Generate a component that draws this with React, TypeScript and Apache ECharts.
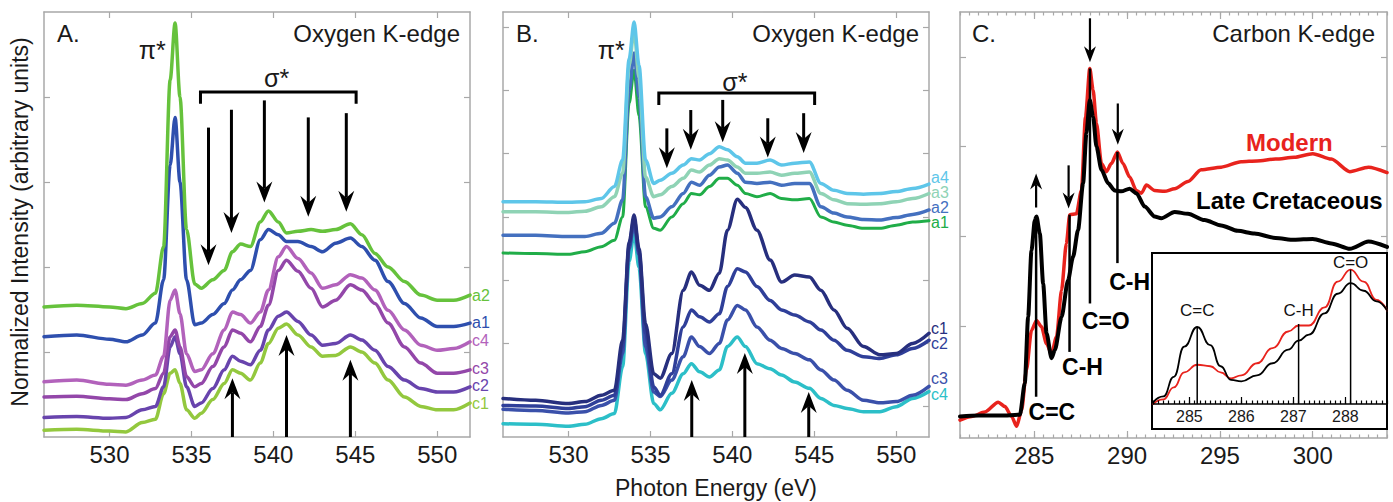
import React, { useEffect, useRef } from 'react';
import * as echarts from 'echarts';

// ---------------- data ----------------
// Oxygen K-edge energy grid (eV), shared by panels A and B
const energyO = [526, 528, 530, 531, 532, 532.8, 533.3, 533.7, 534, 534.3, 534.7, 535.2, 535.6, 536.3, 537, 537.5, 538, 538.6, 539.2, 539.7, 540.3, 540.8, 541.5, 542.3, 543, 543.8, 544.7, 545.4, 546.2, 547, 548, 549, 550, 551, 552];

// Panel A
const panelA_a2 = [1.53, 1.55, 1.53, 1.51, 1.57, 1.69, 2.24, 4.2, 4.87, 4.0, 2.44, 1.8, 1.75, 1.85, 1.96, 2.18, 2.27, 2.24, 2.53, 2.66, 2.53, 2.40, 2.42, 2.44, 2.42, 2.44, 2.51, 2.38, 2.16, 2.0, 1.83, 1.67, 1.61, 1.61, 1.67];
const panelA_a1 = [1.18, 1.20, 1.15, 1.12, 1.20, 1.34, 1.85, 3.2, 3.76, 3.0, 1.85, 1.32, 1.34, 1.44, 1.57, 1.73, 1.85, 1.96, 2.32, 2.44, 2.38, 2.30, 2.30, 2.24, 2.18, 2.28, 2.34, 2.24, 2.08, 1.83, 1.57, 1.40, 1.30, 1.30, 1.34];
const panelA_c4 = [0.65, 0.67, 0.62, 0.61, 0.67, 0.73, 0.95, 1.61, 1.73, 1.45, 0.98, 0.77, 0.79, 0.98, 1.26, 1.47, 1.44, 1.34, 1.47, 1.73, 2.12, 2.24, 2.10, 1.93, 1.75, 1.79, 1.91, 1.87, 1.73, 1.49, 1.26, 1.08, 1.02, 1.04, 1.12];
const panelA_c3 = [0.47, 0.48, 0.45, 0.44, 0.51, 0.57, 0.75, 1.18, 1.26, 1.06, 0.71, 0.59, 0.63, 0.83, 1.06, 1.26, 1.22, 1.12, 1.30, 1.55, 1.96, 2.08, 1.95, 1.75, 1.53, 1.61, 1.79, 1.73, 1.57, 1.34, 1.06, 0.87, 0.75, 0.75, 0.79];
const panelA_c2 = [0.23, 0.24, 0.22, 0.23, 0.32, 0.36, 0.59, 1.06, 1.18, 0.98, 0.59, 0.36, 0.40, 0.57, 0.79, 0.95, 0.89, 0.85, 1.02, 1.26, 1.42, 1.47, 1.36, 1.20, 1.08, 1.10, 1.20, 1.14, 1.02, 0.83, 0.67, 0.57, 0.53, 0.53, 0.59];
const panelA_c1 = [0.08, 0.09, 0.07, 0.06, 0.17, 0.21, 0.51, 0.75, 0.79, 0.63, 0.32, 0.22, 0.28, 0.44, 0.63, 0.79, 0.75, 0.67, 0.87, 1.10, 1.28, 1.33, 1.20, 1.06, 0.95, 0.96, 1.06, 1.00, 0.87, 0.67, 0.47, 0.36, 0.32, 0.32, 0.40];
const panelANames = ['a2', 'a1', 'c4', 'c3', 'c2', 'c1'];
const panelAColors = ['#66c23c', '#2e4fae', '#b262bb', '#9347a9', '#6844ad', '#93c83e'];
const panelALabelY = [1.67, 1.35, 1.14, 0.81, 0.61, 0.39];

// Panel B
const panelB_a4 = [3.24, 3.24, 3.23, 3.24, 3.29, 3.48, 3.90, 5.5, 6.08, 5.4, 3.90, 3.53, 3.58, 3.69, 3.82, 3.92, 3.90, 4.00, 4.11, 4.06, 3.95, 3.85, 3.85, 3.90, 3.82, 3.85, 3.87, 3.53, 3.42, 3.37, 3.36, 3.37, 3.40, 3.45, 3.52];
const panelB_a3 = [3.08, 3.08, 3.07, 3.09, 3.16, 3.32, 3.69, 5.4, 5.95, 5.2, 3.63, 3.32, 3.35, 3.48, 3.61, 3.74, 3.71, 3.82, 3.92, 3.90, 3.79, 3.69, 3.69, 3.71, 3.66, 3.69, 3.71, 3.37, 3.27, 3.21, 3.20, 3.21, 3.24, 3.29, 3.37];
const panelB_a2 = [2.71, 2.71, 2.69, 2.69, 2.74, 2.90, 3.27, 5.0, 5.59, 4.9, 3.32, 2.98, 3.00, 3.16, 3.37, 3.55, 3.50, 3.66, 3.79, 3.82, 3.69, 3.55, 3.53, 3.55, 3.50, 3.53, 3.53, 3.16, 3.06, 3.00, 2.96, 2.95, 2.99, 3.04, 3.11];
const panelB_a1 = [2.43, 2.42, 2.41, 2.45, 2.53, 2.63, 3.00, 4.8, 5.32, 4.6, 3.16, 2.82, 2.79, 3.00, 3.21, 3.37, 3.35, 3.48, 3.61, 3.61, 3.50, 3.37, 3.32, 3.37, 3.29, 3.27, 3.29, 3.00, 2.92, 2.87, 2.82, 2.82, 2.87, 2.92, 2.94];
const panelB_c1 = [0.13, 0.10, 0.05, 0.08, 0.18, 0.26, 1.05, 2.6, 3.03, 2.5, 1.31, 0.52, 0.45, 0.84, 1.84, 2.13, 1.92, 1.84, 2.11, 2.79, 3.28, 3.15, 2.79, 2.32, 1.97, 2.08, 2.05, 1.84, 1.53, 1.24, 0.95, 0.82, 0.84, 1.00, 1.16];
const panelB_c2 = [0.02, 0.01, -0.03, 0.00, 0.10, 0.18, 0.95, 2.55, 2.98, 2.45, 1.16, 0.31, 0.18, 0.52, 1.26, 1.53, 1.42, 1.34, 1.47, 1.90, 2.18, 2.13, 1.90, 1.68, 1.53, 1.45, 1.34, 1.21, 1.05, 0.89, 0.79, 0.76, 0.82, 0.92, 1.05];
const panelB_c3 = [-0.04, -0.06, -0.10, -0.08, 0.02, 0.10, 0.84, 2.5, 2.9, 2.4, 0.95, 0.23, 0.16, 0.42, 0.79, 1.10, 0.95, 0.84, 1.00, 1.37, 1.60, 1.53, 1.26, 1.05, 0.92, 0.84, 0.74, 0.58, 0.42, 0.26, 0.10, 0.06, 0.08, 0.18, 0.32];
const panelB_c4 = [-0.27, -0.28, -0.31, -0.28, -0.19, -0.11, 0.63, 2.3, 2.75, 2.2, 0.84, 0.05, -0.05, 0.21, 0.52, 0.68, 0.55, 0.47, 0.58, 0.95, 1.10, 0.95, 0.68, 0.60, 0.50, 0.39, 0.29, 0.13, 0.02, -0.03, -0.08, -0.08, 0.00, 0.13, 0.24];
const panelBNames = ['a4', 'a3', 'a2', 'a1', 'c1', 'c2', 'c3', 'c4'];
const panelBColors = ['#5ec6e9', '#8fd3b5', '#4470bf', '#20ad48', '#272f7e', '#2f3f99', '#3a50aa', '#2cbfc8'];
const panelBLabelY = [3.63, 3.39, 3.15, 2.91, 1.24, 1.00, 0.45, 0.19];

// Panel C (Carbon K-edge)
const cretaceousE = [281, 282, 283.2, 284.23, 284.49, 284.67, 284.85, 285.03, 285.12, 285.30, 285.48, 285.66, 285.93, 286.11, 286.47, 286.82, 287.09, 287.36, 287.63, 287.81, 287.99, 288.17, 288.35, 288.62, 288.98, 289.33, 289.69, 290.14, 290.50, 290.95, 291.48, 291.84, 292.56, 293.28, 294.17, 295.07, 295.96, 296.86, 298, 299, 300, 301, 302, 303, 304];
const cretaceousI = [-0.01, 0.0, 0.0, 0.01, 0.36, 1.10, 1.84, 2.18, 2.22, 2.03, 1.47, 0.92, 0.64, 0.73, 1.10, 1.51, 1.77, 2.07, 2.59, 3.15, 3.52, 3.33, 3.00, 2.74, 2.59, 2.51, 2.50, 2.53, 2.48, 2.33, 2.22, 2.20, 2.27, 2.25, 2.18, 2.12, 2.06, 2.03, 1.98, 1.96, 1.97, 1.92, 1.86, 1.94, 1.88];
const modernE = [281, 281.63, 282.34, 283.06, 283.42, 283.78, 284.05, 284.32, 284.58, 284.85, 285.12, 285.39, 285.66, 285.93, 286.20, 286.47, 286.73, 286.91, 287.27, 287.54, 287.76, 287.99, 288.17, 288.35, 288.62, 288.89, 289.15, 289.48, 289.78, 290.14, 290.50, 290.77, 291.04, 291.48, 292.02, 292.56, 293.28, 293.99, 295.07, 296.14, 297, 298, 299, 300, 301, 302, 303, 304];
const modernI = [-0.05, -0.01, 0.04, 0.15, 0.10, -0.01, -0.12, 0.06, 0.51, 0.95, 1.06, 0.99, 0.80, 0.69, 0.88, 1.40, 1.92, 2.24, 2.25, 2.51, 3.33, 3.87, 3.63, 3.26, 2.81, 2.72, 2.81, 2.94, 2.81, 2.66, 2.51, 2.48, 2.57, 2.51, 2.50, 2.53, 2.61, 2.74, 2.77, 2.83, 2.84, 2.86, 2.88, 2.92, 2.86, 2.72, 2.77, 2.71];

// Inset
const insetE = [284.3, 284.5, 284.7, 284.9, 285.15, 285.4, 285.6, 285.8, 286.0, 286.3, 286.6, 286.9, 287.1, 287.3, 287.6, 287.85, 288.1, 288.35, 288.6, 288.8];
const insetCretaceous = [0.01, 0.05, 0.18, 0.38, 0.51, 0.39, 0.25, 0.16, 0.15, 0.19, 0.27, 0.36, 0.42, 0.46, 0.60, 0.73, 0.80, 0.75, 0.68, 0.62];
const insetModern = [0.0, 0.03, 0.11, 0.21, 0.26, 0.25, 0.21, 0.17, 0.19, 0.27, 0.37, 0.48, 0.52, 0.52, 0.64, 0.81, 0.89, 0.81, 0.69, 0.62];

// Tick values
const oxygenTicks = [530, 535, 540, 545, 550];
const carbonTicks = [285, 290, 295, 300];
const insetTicks = [285, 286, 287, 288];
const yTicksA = [1, 2, 3, 4];
const yTicksB = [0, 1, 2, 3, 4, 5, 6];
const yTicksC = [1, 2, 3, 4];

// Annotations (data coordinates): [energy, from, tip]
const arrowsADown = [[536.04, 3.64, 2.02], [537.44, 3.85, 2.40], [539.45, 3.96, 2.76], [542.13, 3.76, 2.59], [544.45, 3.81, 2.65]];
const arrowsAUp = [[537.5, 0, 0.69], [540.8, 0, 1.20], [544.7, 0, 0.91]];
const arrowsBDown = [[536.0, 4.40, 3.77], [537.46, 4.69, 4.06], [539.41, 4.85, 4.18], [542.16, 4.56, 3.94], [544.35, 4.64, 4.01]];
const arrowsBUp = [[537.52, -0.48, 0.42], [540.76, -0.48, 0.85], [544.66, -0.48, 0.23]];
const bracketA = [535.55, 545.05, 4.06, 3.92];
const bracketB = [535.51, 545.02, 4.96, 4.77];
const cLines = [[285.1, 2.22, 0.21], [286.9, 2.24, 0.71], [288.0, 3.87, 1.25], [289.48, 2.94, 1.70]];
const cArrows = [[285.1, 2.32, 2.70], [286.85, 2.79, 2.31], [288.0, 4.43, 3.94], [289.5, 3.48, 3.02]];
const cLabels: [string, number, number][] = [['C=C', 285.95, 0.04], ['C-H', 287.6, 0.54], ['C=O', 288.85, 1.05], ['C-H', 290.14, 1.49]];
const insetLines = [[285.15, 0.51], [287.1, 0.53], [288.1, 0.89]];
const insetLabels: [string, number, number][] = [['C=C', 285.15, 0.62], ['C-H', 287.1, 0.62], ['C=O', 288.1, 0.94]];

const FONT = '"Liberation Sans", Arial, Helvetica, sans-serif';
const GRAY = '#a8a8a8';
const RED = '#e8231d';

const GRIDS = [
  { left: 44, top: 12, width: 426, height: 425 },
  { left: 503, top: 12, width: 426, height: 425 },
  { left: 960, top: 12, width: 427, height: 426 },
  { left: 1153, top: 253, width: 234, height: 151 },
];

function xAxisDef(gridIndex: number, min: number, max: number, position: string, opts: any) {
  const color = opts.color || GRAY;
  return {
    type: 'value', gridIndex, min, max, position,
    z: opts.z ?? 0,
    ...(opts.interval ? { interval: opts.interval } : {}),
    axisLine: { show: opts.line !== false, onZero: false, lineStyle: { color, width: opts.lineWidth || 1.5 } },
    axisTick: {
      show: true, inside: true, length: opts.tickLen,
      ...(opts.ticks ? { customValues: opts.ticks } : {}),
      lineStyle: { color, width: 1.2 },
    },
    axisLabel: {
      show: !!opts.labels,
      ...(opts.labels ? { customValues: opts.labels } : {}),
      fontSize: opts.fontSize || 24, fontFamily: FONT, color: '#1a1a1a', margin: opts.margin ?? 5,
    },
    splitLine: { show: false },
  };
}

function yAxisDef(gridIndex: number, min: number, max: number, position: string, ticks: number[] | null) {
  return {
    type: 'value', gridIndex, min, max, position,
    show: ticks !== null,
    axisLine: { show: true, onZero: false, lineStyle: { color: GRAY, width: 1.5 } },
    axisTick: { show: true, inside: true, length: 6, customValues: ticks || [], lineStyle: { color: GRAY, width: 1.2 } },
    axisLabel: { show: false },
    splitLine: { show: false },
  };
}

function lineSeries(xi: number, yi: number, xs: number[], ys: number[], color: string, width: number, z = 2, smooth = 0.3) {
  return {
    type: 'line', xAxisIndex: xi, yAxisIndex: yi,
    data: xs.map((x, i) => [x, ys[i]]),
    symbol: 'none', showSymbol: false, smooth, smoothMonotone: 'x',
    lineStyle: { color, width, join: 'round', cap: 'round' },
    z, silent: true,
  };
}

export default function App() {
  const ref = useRef<HTMLDivElement>(null);
  useEffect(() => {
    document.body.style.margin = '0';
    const chart = echarts.init(ref.current!, null, { renderer: 'svg' });
    const panelAData = [panelA_a2, panelA_a1, panelA_c4, panelA_c3, panelA_c2, panelA_c1];
    const panelBData = [panelB_a4, panelB_a3, panelB_a2, panelB_a1, panelB_c1, panelB_c2, panelB_c3, panelB_c4];

    const series: any[] = [];
    panelAData.slice().reverse().forEach((d, k) => {
      const i = panelAData.length - 1 - k;
      series.push(lineSeries(0, 0, energyO, d, panelAColors[i], 3.5));
    });
    panelBData.slice().reverse().forEach((d, k) => {
      const i = panelBData.length - 1 - k;
      series.push(lineSeries(2, 2, energyO, d, panelBColors[i], i === 3 ? 3 : 3.5));
    });
    series.push(lineSeries(4, 4, modernE, modernI, RED, 3.5, 2, 0.25));
    series.push(lineSeries(4, 4, cretaceousE, cretaceousI, '#000', 4, 2, 0.25));
    series.push(lineSeries(8, 6, insetE, insetModern, RED, 1.8, 6, 0.5));
    series.push(lineSeries(8, 6, insetE, insetCretaceous, '#000', 1.8, 6, 0.5));

    chart.setOption({
      animation: false,
      backgroundColor: '#fff',
      grid: GRIDS.map((g) => ({ ...g, containLabel: false })),
      xAxis: [
        xAxisDef(0, 526, 552, 'bottom', { tickLen: 6, ticks: oxygenTicks, labels: oxygenTicks }),
        xAxisDef(0, 526, 552, 'top', { tickLen: 6, ticks: oxygenTicks }),
        xAxisDef(1, 526, 552, 'bottom', { tickLen: 6, ticks: oxygenTicks, labels: oxygenTicks }),
        xAxisDef(1, 526, 552, 'top', { tickLen: 6, ticks: oxygenTicks }),
        xAxisDef(2, 281, 304, 'bottom', { tickLen: 7, ticks: carbonTicks, labels: carbonTicks }),
        xAxisDef(2, 281, 304, 'bottom', { tickLen: 3.5, interval: 0.5, line: false }),
        xAxisDef(2, 281, 304, 'top', { tickLen: 7, ticks: carbonTicks }),
        xAxisDef(2, 281, 304, 'top', { tickLen: 3.5, interval: 0.5, line: false }),
        xAxisDef(3, 284.3, 288.8, 'bottom', { tickLen: 7, ticks: insetTicks, labels: insetTicks, color: '#000', fontSize: 16, margin: 4, lineWidth: 1.5, z: 10 }),
        xAxisDef(3, 284.3, 288.8, 'bottom', { tickLen: 3.5, interval: 0.1, line: false, color: '#000', z: 10 }),
      ],
      yAxis: [
        yAxisDef(0, 0, 5, 'left', yTicksA),
        yAxisDef(0, 0, 5, 'right', yTicksA),
        yAxisDef(1, -0.48, 6.24, 'left', yTicksB),
        yAxisDef(1, -0.48, 6.24, 'right', yTicksB),
        yAxisDef(2, -0.25, 4.5, 'left', yTicksC),
        yAxisDef(2, -0.25, 4.5, 'right', yTicksC),
        yAxisDef(3, 0, 1, 'left', null),
      ],
      series,
    });

    const P = (xi: number, yi: number, x: number, y: number) => chart.convertToPixel({ xAxisIndex: xi, yAxisIndex: yi } as any, [x, y]) as number[];
    const g: any[] = [];
    const txt = (text: string, x: number, y: number, size: number, opts: any = {}) => {
      g.push({
        type: 'text', z: 20, x, y, rotation: opts.rotation || 0,
        style: {
          text, x: 0, y: 0, fill: opts.color || '#1a1a1a', fontSize: size, fontFamily: FONT,
          lineHeight: opts.lineHeight || size,
          fontWeight: opts.bold ? 'bold' : 'normal', textAlign: opts.align || 'center', textVerticalAlign: 'middle',
        },
      });
    };
    const arrow = (p0: number[], tip: number[], w: number, L: number, notch: number, lw: number) => {
      const dir = tip[1] > p0[1] ? 1 : -1;
      const x = tip[0], ty = tip[1];
      const backY = ty - dir * L, notchY = ty - dir * (L - notch);
      g.push({ type: 'line', z: 20, shape: { x1: x, y1: p0[1], x2: x, y2: notchY }, style: { stroke: '#000', lineWidth: lw } });
      g.push({ type: 'polygon', z: 20, shape: { points: [[x, ty], [x - w / 2, backY], [x, notchY], [x + w / 2, backY]] }, style: { fill: '#000' } });
    };
    const vline = (a: number[], b: number[], lw: number) => {
      g.push({ type: 'line', z: 20, shape: { x1: a[0], y1: a[1], x2: b[0], y2: b[1] }, style: { stroke: '#000', lineWidth: lw } });
    };

    // Panels A and B
    const oxPanels = [
      { xi: 0, yi: 0, down: arrowsADown, up: arrowsAUp, br: bracketA, pi: [532.6, 4.55], sigma: [540.2, 4.22], names: panelANames, colors: panelAColors, ly: panelALabelY, letter: 'A.' },
      { xi: 2, yi: 2, down: arrowsBDown, up: arrowsBUp, br: bracketB, pi: [532.6, 5.64], sigma: [540.15, 5.13], names: panelBNames, colors: panelBColors, ly: panelBLabelY, letter: 'B.' },
    ];
    oxPanels.forEach((p, idx) => {
      p.down.forEach(([e, f, t]) => arrow(P(p.xi, p.yi, e, f), P(p.xi, p.yi, e, t), 16, 21, 7, 3));
      p.up.forEach(([e, f, t]) => arrow(P(p.xi, p.yi, e, f), P(p.xi, p.yi, e, t), 16, 21, 7, 3));
      const [x1, x2, yb, ye] = p.br;
      const a = P(p.xi, p.yi, x1, yb), b = P(p.xi, p.yi, x2, yb), c = P(p.xi, p.yi, x1, ye), d = P(p.xi, p.yi, x2, ye);
      g.push({ type: 'polyline', z: 20, shape: { points: [c, a, b, d] }, style: { stroke: '#000', lineWidth: 3, fill: 'none' } });
      const pp = P(p.xi, p.yi, p.pi[0], p.pi[1]);
      txt('π*', pp[0], pp[1], 25);
      const sp = P(p.xi, p.yi, p.sigma[0], p.sigma[1]);
      txt('σ*', sp[0], sp[1], 25);
      p.names.forEach((n, i) => {
        const q = P(p.xi, p.yi, 552, p.ly[i]);
        txt(n, q[0] + 2, q[1], 16, { color: p.colors[i], align: 'left', lineHeight: 13 });
      });
      const gr = GRIDS[idx];
      txt(p.letter, gr.left + 13, gr.top + 21, 24, { align: 'left' });
      txt('Oxygen K-edge', gr.left + gr.width - 10, gr.top + 21, 24, { align: 'right' });
    });

    // Panel C
    cLines.forEach(([e, t, b]) => vline(P(4, 4, e, t), P(4, 4, e, b), 2.5));
    cArrows.forEach(([e, f, t]) => arrow(P(4, 4, e, f), P(4, 4, e, t), 12, 16, 5, 2.2));
    cLabels.forEach(([s, e, v]) => {
      const q = P(4, 4, e, v);
      txt(s, q[0], q[1], 23, { bold: true, color: '#000' });
    });
    const mp = P(4, 4, 298.74, 3.05);
    txt('Modern', mp[0], mp[1], 24, { bold: true, color: RED });
    const lp = P(4, 4, 298.74, 2.40);
    txt('Late Cretaceous', lp[0], lp[1], 24, { bold: true, color: '#000' });
    const gc = GRIDS[2];
    txt('C.', gc.left + 12, gc.top + 21, 24, { align: 'left' });
    txt('Carbon K-edge', gc.left + gc.width - 12, gc.top + 21, 24, { align: 'right' });

    // Inset
    const gi = GRIDS[3];
    g.push({ type: 'rect', z: 3, shape: { x: gi.left - 1, y: gi.top, width: gi.width + 1, height: gi.height + 25 }, style: { fill: '#fff', stroke: '#000', lineWidth: 2 } });
    insetLines.forEach(([e, t]) => vline(P(8, 6, e, t), P(8, 6, e, 0), 1.5));
    insetLabels.forEach(([s, e, v]) => {
      const q = P(8, 6, e, v);
      txt(s, q[0], q[1], 17, { color: '#111' });
    });

    // Axis titles
    txt('Normalized Intensity (arbitrary units)', 20, 222, 23, { rotation: Math.PI / 2 });
    const gb = GRIDS[1];
    txt('Photon Energy (eV)', gb.left + gb.width / 2, 488, 23);

    chart.setOption({ graphic: { elements: g } });
    return () => chart.dispose();
  }, []);
  return <div ref={ref} style={{ position: 'absolute', left: 0, top: 0, width: 1393, height: 502, background: '#fff' }} />;
}
